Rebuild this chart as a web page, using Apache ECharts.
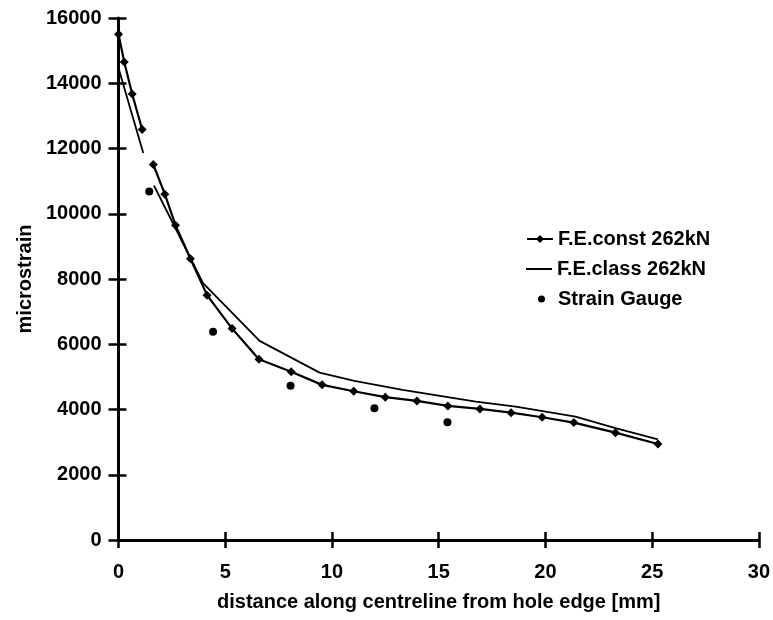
<!DOCTYPE html>
<html>
<head>
<meta charset="utf-8">
<script src="https://cdn.jsdelivr.net/npm/echarts@6/dist/echarts.min.js"></script>
<style>
  html, body { margin: 0; padding: 0; background: #fff; }
  #chart { width: 773px; height: 620px; }
</style>
</head>
<body>
<div id="chart"></div>
<script>
// ---- data ----
const xTicks = [0, 5, 10, 15, 20, 25, 30];
const yTicks = [0, 2000, 4000, 6000, 8000, 10000, 12000, 14000, 16000];

// F.E.const 262kN (diamonds); null marks the gap seen in the drawn line
const constX = [0, 0.27, 0.64, 1.11, 1.37, 1.63, 2.17, 2.67, 3.37, 4.15, 5.32, 6.58, 8.09, 9.54, 11.02, 12.5, 13.98, 15.43, 16.93, 18.39, 19.85, 21.33, 23.28, 25.27];
const constY = [15500, 14650, 13670, 12580, null, 11510, 10600, 9650, 8620, 7505, 6480, 5540, 5160, 4755, 4560, 4377, 4263, 4110, 4018, 3904, 3763, 3598, 3291, 2944];

// F.E.class 262kN (plain line)
const classX = [0.03, 1.16, 1.4, 1.66, 3.96, 6.61, 9.42, 11.05, 13.31, 16.74, 18.61, 21.41, 23.28, 25.27];
const classY = [14400, 11860, null, 10866, 7873, 6103, 5131, 4876, 4600, 4242, 4088, 3782, 3426, 3088];

// Strain Gauge (dots)
const gaugeX = [1.44, 4.43, 8.06, 11.99, 15.41];
const gaugeY = [10680, 6380, 4730, 4040, 3610];

const pairs = (xs, ys) => xs.map((x, i) => [x, ys[i] === null ? '-' : ys[i]]);

const FONT = 'Liberation Sans, Arial, sans-serif';
const chart = echarts.init(document.getElementById('chart'), null, { renderer: 'canvas' });

const baseAxisText = { color: '#000', fontFamily: FONT, fontWeight: 'bold', fontSize: 20 };
const legendText = { color: '#000', fontFamily: FONT, fontWeight: 'bold', fontSize: 20 };

chart.setOption({
  animation: false,
  backgroundColor: '#fff',
  grid: { left: 118.5, right: 12, top: 18, bottom: 80, containLabel: false },
  xAxis: [{
    type: 'value', min: xTicks[0], max: xTicks[xTicks.length - 1], interval: 5,
    name: 'distance along centreline from hole edge [mm]',
    nameLocation: 'middle', nameGap: 52,
    nameTextStyle: baseAxisText,
    axisLine: { show: true, lineStyle: { color: '#000', width: 3 } },
    axisTick: { show: true, length: 8, lineStyle: { color: '#000', width: 2.5 } },
    axisLabel: Object.assign({ margin: 22, formatter: v => String(v) }, baseAxisText),
    splitLine: { show: false }
  }, {
    type: 'value', min: xTicks[0], max: xTicks[xTicks.length - 1], interval: 5,
    position: 'bottom',
    axisLine: { show: false },
    axisTick: { show: true, inside: true, length: 8, lineStyle: { color: '#000', width: 2.5 } },
    axisLabel: { show: false },
    splitLine: { show: false }
  }],
  yAxis: [{
    type: 'value', min: yTicks[0], max: yTicks[yTicks.length - 1], interval: 2000,
    name: 'microstrain',
    nameLocation: 'middle', nameGap: 80,
    nameTextStyle: baseAxisText,
    axisLine: { show: true, lineStyle: { color: '#000', width: 3 } },
    axisTick: { show: true, length: 10, lineStyle: { color: '#000', width: 2.5 } },
    axisLabel: Object.assign({ margin: 17, formatter: v => String(v) }, baseAxisText),
    splitLine: { show: false }
  }, {
    type: 'value', min: yTicks[0], max: yTicks[yTicks.length - 1], interval: 2000,
    position: 'left',
    axisLine: { show: false },
    axisTick: { show: true, inside: true, length: 8, lineStyle: { color: '#000', width: 2.5 } },
    axisLabel: { show: false },
    splitLine: { show: false }
  }],
  legend: [{
    data: ['F.E.const 262kN'],
    left: 521, top: 224, itemWidth: 26, itemHeight: 10,
    textStyle: legendText
  }, {
    data: [{ name: 'F.E.class 262kN', icon: 'rect' }],
    left: 521, top: 254, itemWidth: 26, itemHeight: 2,
    itemStyle: { color: '#000' },
    textStyle: legendText
  }, {
    data: [{ name: 'Strain Gauge', icon: 'circle' }],
    left: 533, top: 284, itemWidth: 7, itemHeight: 7,
    textStyle: Object.assign({ padding: [0, 0, 0, 8] }, legendText)
  }],
  series: [{
    name: 'F.E.const 262kN', type: 'line',
    xAxisIndex: 0, yAxisIndex: 0,
    data: pairs(constX, constY),
    connectNulls: false,
    symbol: 'diamond', symbolSize: 9, showAllSymbol: true,
    lineStyle: { color: '#000', width: 2.2 },
    itemStyle: { color: '#000' },
    z: 3
  }, {
    name: 'F.E.class 262kN', type: 'line',
    xAxisIndex: 0, yAxisIndex: 0,
    data: pairs(classX, classY),
    connectNulls: false,
    symbol: 'none',
    lineStyle: { color: '#000', width: 1.8 },
    itemStyle: { color: '#000' },
    z: 2
  }, {
    name: 'Strain Gauge', type: 'scatter',
    xAxisIndex: 0, yAxisIndex: 0,
    data: pairs(gaugeX, gaugeY),
    symbol: 'circle', symbolSize: 8,
    itemStyle: { color: '#000', opacity: 1 },
    z: 4
  }]
});
</script>
</body>
</html>
